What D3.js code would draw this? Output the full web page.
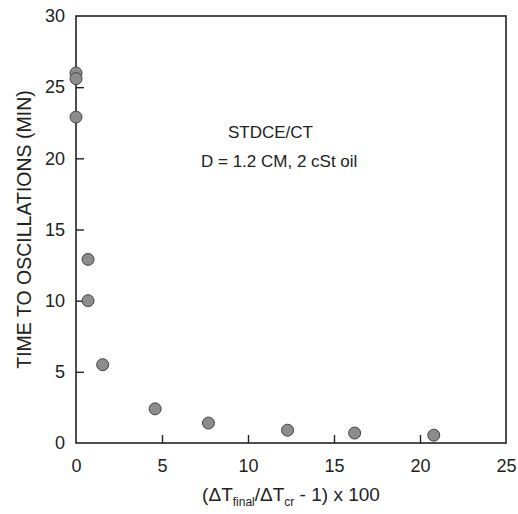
<!DOCTYPE html>
<html><head><meta charset="utf-8">
<script src="https://cdn.jsdelivr.net/npm/d3@7"></script>
<style>body{margin:0;background:#fff}svg{display:block}text{font-family:"Liberation Sans",Arial,sans-serif;fill:#222}</style>
</head><body>
<script>
const xVals = [0, 0, 0, 0.7, 0.7, 1.55, 4.6, 7.7, 12.3, 16.2, 20.8];
const yVals = [26.0, 25.6, 22.9, 12.9, 10.0, 5.5, 2.4, 1.4, 0.9, 0.7, 0.55];
const xTicks = [0, 5, 10, 15, 20, 25];
const yTicks = [0, 5, 10, 15, 20, 25, 30];
const notes = ["STDCE/CT", "D = 1.2 CM, 2 cSt oil"];

const W = 518, H = 514;
const m = {l: 76, t: 16, r: 12, b: 71};
const svg = d3.select("body").append("svg").attr("width", W).attr("height", H);
const x = d3.scaleLinear().domain([0, 25]).range([m.l, W - m.r]);
const y = d3.scaleLinear().domain([0, 30]).range([H - m.b, m.t]);

svg.append("rect").attr("x", x(0)).attr("y", y(30)).attr("width", x(25) - x(0)).attr("height", y(0) - y(30))
  .attr("fill", "none").attr("stroke", "#222").attr("stroke-width", 1.6);

const xa = svg.append("g").attr("transform", `translate(0,${y(0)})`)
  .call(d3.axisBottom(x).tickValues(xTicks).tickSize(-8).tickPadding(16).tickFormat(d3.format("d")));
const ya = svg.append("g").attr("transform", `translate(${x(0)},0)`)
  .call(d3.axisLeft(y).tickValues(yTicks).tickSize(-8).tickPadding(11).tickFormat(d3.format("d")));
[xa, ya].forEach(a => {
  a.select(".domain").remove();
  a.selectAll("line").attr("stroke", "#222").attr("stroke-width", 1.4);
  a.selectAll("text").style("font-size", "18px").attr("fill", "#222");
});
xa.selectAll(".tick").filter(d => d === 0 || d === 25).select("line").remove();
ya.selectAll(".tick").filter(d => d === 0 || d === 30).select("line").remove();

svg.append("g").selectAll("circle").data(xVals.map((v, i) => [v, yVals[i]])).join("circle")
  .attr("cx", d => x(d[0])).attr("cy", d => y(d[1])).attr("r", 6)
  .attr("fill", "#8c8c8c").attr("stroke", "#444").attr("stroke-width", 1);

svg.append("text").attr("x", 228).attr("y", 138).style("font-size", "17px").text(notes[0]);
svg.append("text").attr("x", 201).attr("y", 167).style("font-size", "17px").text(notes[1]);

svg.append("text").attr("transform", `translate(31,${(y(0) + y(30)) / 2}) rotate(-90)`)
  .attr("text-anchor", "middle").style("font-size", "19.5px").text("TIME TO OSCILLATIONS (MIN)");

const xt = svg.append("text").attr("x", (x(0) + x(25)) / 2).attr("y", 501).attr("text-anchor", "middle").style("font-size", "19px");
xt.append("tspan").text("(\u0394T");
xt.append("tspan").attr("dy", 5).style("font-size", "12px").text("final");
xt.append("tspan").attr("dy", -5).text("/\u0394T");
xt.append("tspan").attr("dy", 5).style("font-size", "12px").text("cr");
xt.append("tspan").attr("dy", -5).text(" - 1) x 100");
</script>
</body></html>
